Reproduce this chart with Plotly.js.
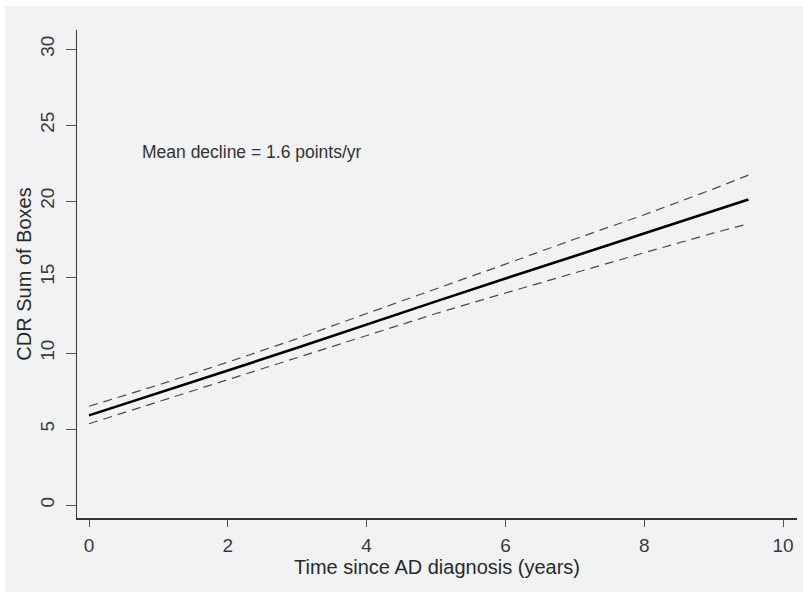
<!DOCTYPE html>
<html>
<head>
<meta charset="utf-8">
<script src="https://cdn.plot.ly/plotly-3.0.1.min.js"></script>
<style>
html,body{margin:0;padding:0;background:#ffffff;}
#chart{width:803px;height:592px;}
</style>
</head>
<body>
<div id="chart"></div>
<script>
// Data
var years = [0, 1, 2, 3, 4, 5, 6, 7, 8, 9, 9.5];
var meanCDR = [5.9, 7.35, 8.85, 10.35, 11.9, 13.4, 14.9, 16.4, 17.85, 19.35, 20.1];
var upperCDR = [6.5, 7.9, 9.4, 10.95, 12.6, 14.2, 15.85, 17.5, 19.1, 20.8, 21.7];
var lowerCDR = [5.35, 6.8, 8.3, 9.75, 11.2, 12.6, 13.95, 15.3, 16.6, 17.9, 18.5];
var xTicks = [0, 2, 4, 6, 8, 10];
var yTicks = [0, 5, 10, 15, 20, 25, 30];
var annotationText = 'Mean decline = 1.6 points/yr';

var fontFam = '"Liberation Sans", Arial, Helvetica, sans-serif';
var bg = '#f1f2f4';
var L = 77, R = 6, T = 30, B = 74, W = 803, H = 592;
var pw = W - L - R, ph = H - T - B;

var traces = [
  {x: years, y: upperCDR, mode: 'lines', line: {color: '#4a4a4a', width: 1.2, dash: '9px,6px'}, hoverinfo: 'skip'},
  {x: years, y: lowerCDR, mode: 'lines', line: {color: '#4a4a4a', width: 1.2, dash: '9px,6px'}, hoverinfo: 'skip'},
  {x: years, y: meanCDR, mode: 'lines', line: {color: '#000000', width: 2.6}, hoverinfo: 'skip'}
];

var layout = {
  width: W, height: H,
  margin: {l: L, r: R, t: T, b: B, pad: 0},
  paper_bgcolor: bg,
  plot_bgcolor: bg,
  showlegend: false,
  font: {family: fontFam, color: '#333333'},
  xaxis: {
    range: [-0.173, 10.2],
    tickvals: xTicks,
    ticktext: xTicks.map(String),
    showgrid: false, zeroline: false,
    showline: true, linecolor: '#333333', linewidth: 1.5,
    ticks: 'outside', ticklen: 7, tickwidth: 1, tickcolor: '#555555',
    ticklabelstandoff: 3,
    tickfont: {size: 19, color: '#3a3a3a', family: fontFam},
    title: {text: 'Time since AD diagnosis (years)', font: {size: 20, color: '#2a2a2a', family: fontFam}, standoff: 1}
  },
  yaxis: {
    range: [-0.85, 31.25],
    tickvals: yTicks,
    ticktext: yTicks.map(String),
    tickangle: -90,
    showgrid: false, zeroline: false,
    showline: true, linecolor: '#333333', linewidth: 1.5,
    ticks: 'outside', ticklen: 10, tickwidth: 1, tickcolor: '#555555',
    ticklabelstandoff: 4,
    tickfont: {size: 19, color: '#3a3a3a', family: fontFam},
    title: {text: 'CDR Sum of Boxes', font: {size: 20, color: '#2a2a2a', family: fontFam}, standoff: 0}
  },
  annotations: [{
    x: 0.74, y: 23.2, xref: 'x', yref: 'y', xanchor: 'left', yanchor: 'middle',
    text: annotationText, showarrow: false,
    font: {size: 17.5, color: '#333333', family: fontFam}
  }],
  shapes: [
    {type: 'rect', xref: 'paper', yref: 'paper', x0: -L / pw, x1: (W - L) / pw, y0: 1 + (T - 6) / ph, y1: 1 + T / ph, fillcolor: '#ffffff', line: {width: 0}, layer: 'below'},
    {type: 'rect', xref: 'paper', yref: 'paper', x0: -L / pw, x1: (5 - L) / pw, y0: -B / ph, y1: 1 + T / ph, fillcolor: '#ffffff', line: {width: 0}, layer: 'below'}
  ]
};

Plotly.newPlot('chart', traces, layout, {displayModeBar: false, staticPlot: true});
</script>
</body>
</html>
